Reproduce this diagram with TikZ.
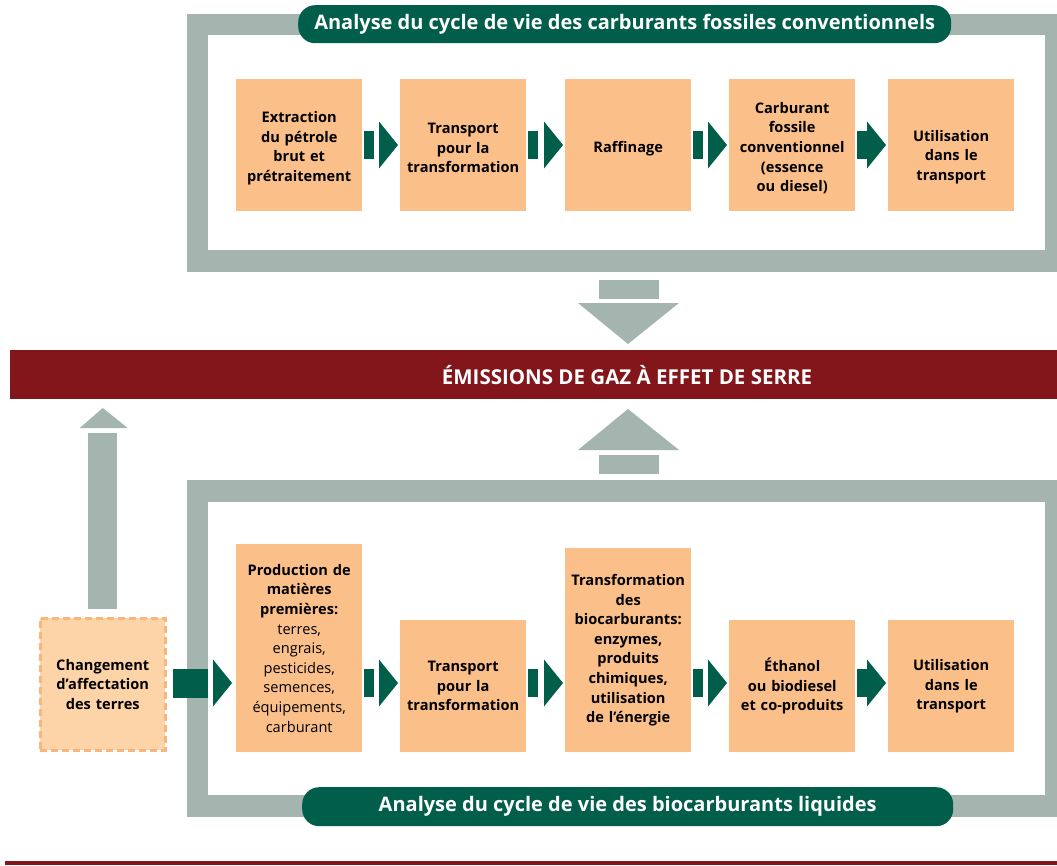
\documentclass[tikz,border=0pt]{standalone}
\usepackage{fontspec}
\setmainfont{Open Sans}
\usetikzlibrary{calc}
\definecolor{frgrey}{HTML}{A4B5AF}
\definecolor{dkgreen}{HTML}{005E4A}
\definecolor{boxor}{HTML}{FBC08A}
\definecolor{lightor}{HTML}{FDD3A8}
\definecolor{dashor}{HTML}{F9B57A}
\definecolor{dkred}{HTML}{83161A}
\tikzset{
  stepbox/.style={fill=boxor, inner sep=0pt, minimum width=126pt, align=center,
    text width=124pt, font=\fontsize{14.6}{19.6}\selectfont\bfseries, anchor=north west},
  boxtext/.style={inner sep=0pt, align=center, text width=124pt,
    font=\fontsize{14.6}{19.6}\selectfont\bfseries},
  pill/.style={fill=dkgreen, rounded corners=17pt, text=white, inner sep=0pt,
    font=\fontsize{20}{24}\selectfont\bfseries, anchor=north west},
  greyarrow/.style={fill=frgrey},
  chev/.style={fill=dkgreen},
}
% chevron connector between two nodes at height y
\newcommand\chevr[3]{%
  \fill[chev] ($(#1.east |- 0,#3)+(2,-14)$) rectangle ($(#1.east |- 0,#3)+(12,14)$);
  \fill[chev] ($(#2.west |- 0,#3)+(-21,-23.5)$) -- ($(#2.west |- 0,#3)+(-2,0)$) -- ($(#2.west |- 0,#3)+(-21,23.5)$) -- cycle;}
\begin{document}
\begin{tikzpicture}[x=1pt,y=-1pt]
\useasboundingbox (0,0) rectangle (1057,865);
% ---------- top frame
\fill[frgrey] (187,14) rectangle (1057,272);
\fill[white] (208,35) rectangle (1045,250);
\node[pill, minimum width=653pt, minimum height=38pt] (ptop) at (298,5)
  {Analyse du cycle de vie des carburants fossiles conventionnels};
% top boxes
\node[stepbox, minimum height=132pt, label={[boxtext, yshift=-3pt]center:Extraction\\du pétrole\\brut et\\prétraitement}] (t1) at (236,79) {};
\node[stepbox, minimum height=132pt, label={[boxtext, yshift=-3pt]center:Transport\\pour la\\transformation}] (t2) at (400,79) {};
\node[stepbox, minimum height=132pt, label={[boxtext, yshift=-3pt]center:Raffinage}] (t3) at (565,79) {};
\node[stepbox, minimum height=132pt, label={[boxtext, yshift=-3pt]center:Carburant\\fossile\\conventionnel\\(essence\\ou diesel)}] (t4) at (729,79) {};
\node[stepbox, minimum height=132pt, label={[boxtext, yshift=-12pt]center:Utilisation\\dans le\\transport}] (t5) at (888,79) {};
\chevr{t1}{t2}{145}
\chevr{t2}{t3}{145}
\chevr{t3}{t4}{145}
\chevr{t4}{t5}{145}
% ---------- emissions band
\fill[dkred] (10,350) rectangle (1057,399);
\node[text=white, font=\fontsize{20.5}{24}\selectfont\bfseries, inner sep=0pt] (ghg) at (627,375)
  {ÉMISSIONS DE GAZ À EFFET DE SERRE};
% down arrow
\fill[greyarrow] (599,280) rectangle (659,299);
\fill[greyarrow] (578,303) -- (679,303) -- (628,344) -- cycle;
% up arrow
\fill[greyarrow] (578,450) -- (679,450) -- (628,409) -- cycle;
\fill[greyarrow] (599,455) rectangle (659,474);
% ---------- bottom frame
\fill[frgrey] (187,480) rectangle (1057,817);
\fill[white] (208,502) rectangle (1045,795);
\node[pill, minimum width=651pt, minimum height=39pt] (pbot) at (302,787)
  {Analyse du cycle de vie des biocarburants liquides};
% bottom boxes
\node[stepbox, minimum height=208pt] (b1) at (236,544)
  {Production de\\matières\\premières:\\{\mdseries terres,\\engrais,\\pesticides,\\semences,\\équipements,\\carburant}};
\node[stepbox, minimum height=132pt] (b2) at (400,620) {Transport\\pour la\\transformation};
\node[stepbox, minimum height=204pt] (b3) at (565,548)
  {Transformation\\des\\biocarburants:\\enzymes,\\produits\\chimiques,\\utilisation\\de l’énergie};
\node[stepbox, minimum height=132pt] (b4) at (729,620) {Éthanol\\ou biodiesel\\et co-produits};
\node[stepbox, minimum height=132pt] (b5) at (888,620) {Utilisation\\dans le\\transport};
\chevr{b1}{b2}{683}
\chevr{b2}{b3}{683}
\chevr{b3}{b4}{683}
\chevr{b4}{b5}{683}
% land-use change
\node[stepbox, fill=lightor, draw=dashor, dashed, line width=2.5pt, dash pattern=on 7pt off 4pt,
  minimum width=125pt, minimum height=132pt] (luc) at (39,617)
  {Changement\\d’affectation\\des terres};
% thick chevron luc -> b1
\fill[chev] ($(luc.east |- 0,669)+(6,0)$) rectangle (208,698);
\fill[chev] ($(b1.west |- 0,683)+(-23,-23.5)$) -- ($(b1.west |- 0,683)+(-4,0)$) -- ($(b1.west |- 0,683)+(-23,23.5)$) -- cycle;
% up arrow from luc
\fill[greyarrow] ($(luc.north)+(-14.5,-8)$) rectangle ($(luc.north)+(14.5,-184)$);
\fill[greyarrow] ($(luc.north)+(-23,-189)$) -- ($(luc.north)+(25,-189)$) -- ($(luc.north)+(0,-209)$) -- cycle;
% bottom rule
\fill[dkred] (5,861) rectangle (1057,865);
\end{tikzpicture}
\end{document}
